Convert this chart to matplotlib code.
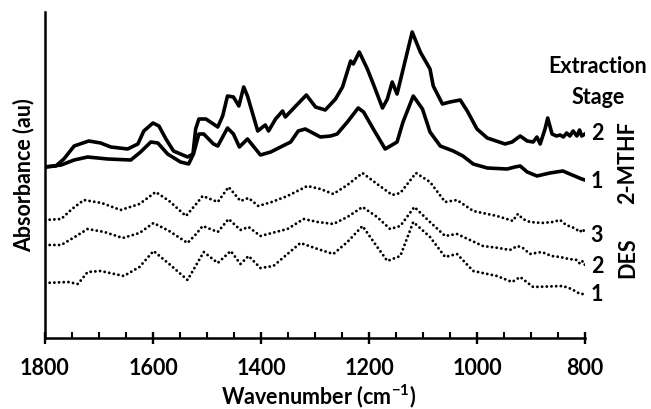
import numpy as np
import matplotlib
matplotlib.use('Agg')
import matplotlib.pyplot as plt

plt.rcParams['font.family'] = ['Lato', 'DejaVu Sans']
plt.rcParams['font.weight'] = 'bold'
plt.rcParams['mathtext.fontset'] = 'custom'
plt.rcParams['mathtext.rm'] = 'Lato:bold'
plt.rcParams['mathtext.bf'] = 'Lato:bold'

# 2-MTHF extraction stage 2 (solid, top)
mthf2_wn = [1800, 1780, 1765, 1746, 1719, 1697, 1678, 1647, 1628, 1617, 1600, 1589, 1576, 1562,
            1536, 1526, 1521, 1515, 1502, 1480, 1471, 1462, 1451, 1441, 1432, 1425, 1406, 1397,
            1392, 1386, 1373, 1360, 1355, 1332, 1316, 1299, 1281, 1262, 1249, 1234, 1229, 1218,
            1203, 1192, 1175, 1166, 1157, 1148, 1120, 1105, 1087, 1081, 1064, 1050, 1031, 1018,
            1000, 981, 948, 935, 920, 907, 896, 889, 883, 874, 869, 861, 853, 846, 840, 834,
            828, 822, 815, 810, 806, 800]
mthf2_abs = [1.82, 1.83, 1.90, 2.03, 2.08, 2.06, 2.02, 2.00, 2.05, 2.18, 2.26, 2.23, 2.10, 1.98,
             1.92, 1.95, 2.20, 2.30, 2.30, 2.22, 2.33, 2.53, 2.52, 2.43, 2.62, 2.53, 2.18, 2.22,
             2.24, 2.18, 2.30, 2.38, 2.32, 2.45, 2.54, 2.42, 2.39, 2.50, 2.62, 2.88, 2.85, 2.97,
             2.80, 2.65, 2.41, 2.50, 2.67, 2.55, 3.17, 2.97, 2.80, 2.63, 2.45, 2.47, 2.49, 2.38,
             2.20, 2.11, 2.05, 2.07, 2.13, 2.08, 2.07, 2.12, 2.05, 2.20, 2.31, 2.15, 2.13, 2.14, 2.12, 2.16,
             2.13, 2.18, 2.13, 2.19, 2.13, 2.15]

# 2-MTHF extraction stage 1 (solid)
mthf1_wn = [1800, 1770, 1746, 1721, 1684, 1641, 1623, 1604, 1591, 1573, 1549, 1534, 1525, 1515,
            1506, 1488, 1480, 1462, 1451, 1440, 1425, 1401, 1382, 1360, 1345, 1331, 1318, 1290,
            1271, 1259, 1240, 1220, 1210, 1192, 1170, 1148, 1137, 1118, 1101, 1087, 1068, 1044,
            1026, 1007, 981, 944, 930, 920, 907, 889, 865, 841, 828, 806, 800]
mthf1_abs = [1.82, 1.84, 1.89, 1.92, 1.90, 1.89, 1.97, 2.07, 2.06, 1.95, 1.87, 1.85, 1.95, 2.15,
             2.15, 2.05, 2.03, 2.21, 2.15, 2.02, 2.10, 1.94, 1.97, 2.03, 2.07, 2.18, 2.20, 2.12,
             2.13, 2.15, 2.27, 2.41, 2.37, 2.20, 2.00, 2.07, 2.27, 2.53, 2.40, 2.17, 2.03, 1.98,
             1.93, 1.85, 1.81, 1.80, 1.82, 1.83, 1.77, 1.73, 1.76, 1.78, 1.75, 1.70, 1.69]

# DES extraction stage 3 (dotted)
des3_wn = [1800, 1770, 1750, 1728, 1695, 1660, 1625, 1595, 1570, 1539, 1520, 1508, 1480, 1460,
           1438, 1423, 1405, 1380, 1351, 1314, 1290, 1266, 1240, 1212, 1185, 1157, 1142, 1113,
           1087, 1059, 1037, 1007, 963, 933, 928, 924, 915, 902, 880, 860, 846, 835, 820, 809, 805, 800]
des3_abs = [1.29, 1.30, 1.40, 1.49, 1.46, 1.39, 1.45, 1.57, 1.48, 1.33, 1.45, 1.53, 1.47, 1.62,
            1.48, 1.51, 1.43, 1.47, 1.53, 1.63, 1.60, 1.55, 1.64, 1.76, 1.65, 1.54, 1.56, 1.76,
            1.67, 1.47, 1.49, 1.38, 1.33, 1.28, 1.33, 1.35, 1.30, 1.27, 1.26, 1.27, 1.29, 1.24, 1.21, 1.17, 1.20, 1.17]

# DES extraction stage 2 (dotted)
des2_wn = [1800, 1770, 1745, 1721, 1690, 1656, 1625, 1599, 1570, 1536, 1520, 1508, 1480, 1460,
           1438, 1423, 1401, 1351, 1321, 1295, 1266, 1240, 1212, 1185, 1161, 1142, 1116, 1087,
           1059, 1037, 989, 960, 939, 925, 915, 902, 880, 862, 846, 830, 815, 809, 804, 800]
des2_abs = [1.04, 1.04, 1.12, 1.20, 1.17, 1.11, 1.16, 1.26, 1.18, 1.06, 1.15, 1.23, 1.17, 1.30,
            1.19, 1.22, 1.13, 1.20, 1.30, 1.27, 1.25, 1.32, 1.42, 1.32, 1.20, 1.23, 1.42, 1.27,
            1.13, 1.15, 1.03, 1.01, 0.99, 1.03, 1.01, 0.95, 0.97, 0.93, 0.92, 0.90, 0.89, 0.85, 0.88, 0.84]

# DES extraction stage 1 (dotted)
des1_wn = [1800, 1757, 1739, 1721, 1697, 1654, 1625, 1599, 1570, 1536, 1506, 1480, 1456, 1438,
           1423, 1401, 1377, 1327, 1295, 1266, 1240, 1212, 1190, 1166, 1142, 1118, 1087, 1059,
           1037, 1007, 963, 935, 920, 896, 841, 825, 809, 800]
des1_abs = [0.66, 0.67, 0.65, 0.77, 0.78, 0.73, 0.82, 0.98, 0.85, 0.69, 0.97, 0.86, 0.98, 0.85,
            0.93, 0.81, 0.83, 1.06, 1.00, 0.95, 1.07, 1.23, 1.06, 0.88, 0.93, 1.27, 1.12, 0.92,
            0.95, 0.78, 0.73, 0.67, 0.72, 0.62, 0.63, 0.60, 0.55, 0.55]

x_ticks = [1800, 1600, 1400, 1200, 1000, 800]
stage_labels = ['2', '1', '3', '2', '1']

fig = plt.figure(figsize=(6.51, 4.10), dpi=100)
ax = fig.add_axes([0.0691, 0.1732, 0.8295, 0.7951])

ax.plot(mthf2_wn, mthf2_abs, color='black', lw=2.6, solid_joinstyle='round')
ax.plot(mthf1_wn, mthf1_abs, color='black', lw=2.6, solid_joinstyle='round')
for wn, ab in [(des3_wn, des3_abs), (des2_wn, des2_abs), (des1_wn, des1_abs)]:
    ax.plot(wn, ab, color='black', lw=2.1, linestyle=(0, (0.01, 1.6)), dash_capstyle='round')

ax.set_xlim(1800, 800)
ax.set_ylim(0.11, 3.37)
ax.spines['top'].set_visible(False)
ax.spines['right'].set_visible(False)
ax.spines['left'].set_linewidth(1.8)
ax.spines['bottom'].set_linewidth(1.8)
ax.set_yticks([])
ax.set_xticks(x_ticks)
ax.set_xticks(np.arange(800, 1801, 50), minor=True)
ax.tick_params(axis='x', which='major', direction='inout', length=9, width=1.7, labelsize=15.5, pad=9)
ax.tick_params(axis='x', which='minor', direction='in', length=4.5, width=1.5)
for lab in ax.get_xticklabels():
    lab.set_fontweight('bold')

fig.text(0.490, 0.014, r'Wavenumber (cm$^{-1}$)', ha='center', va='baseline', fontsize=15.5, fontweight='bold')
fig.text(0.036, 0.573, 'Absorbance (au)', ha='center', va='center', rotation=90, fontsize=15.5, fontweight='bold')

fig.text(0.9186, 0.8366, 'Extraction', ha='center', va='center', fontsize=15.5, fontweight='bold')
fig.text(0.9186, 0.7634, 'Stage', ha='center', va='center', fontsize=15.5, fontweight='bold')
stage_y = [0.6756, 0.5585, 0.4244, 0.3512, 0.2829]
for s, yy in zip(stage_labels, stage_y):
    fig.text(0.917, yy, s, ha='center', va='center', fontsize=15.5, fontweight='bold')
fig.text(0.9647, 0.6024, '2-MTHF', ha='center', va='center', rotation=90, fontsize=15.5, fontweight='bold')
fig.text(0.9647, 0.3707, 'DES', ha='center', va='center', rotation=90, fontsize=15.5, fontweight='bold')

fig.savefig('out.png', dpi=100)
